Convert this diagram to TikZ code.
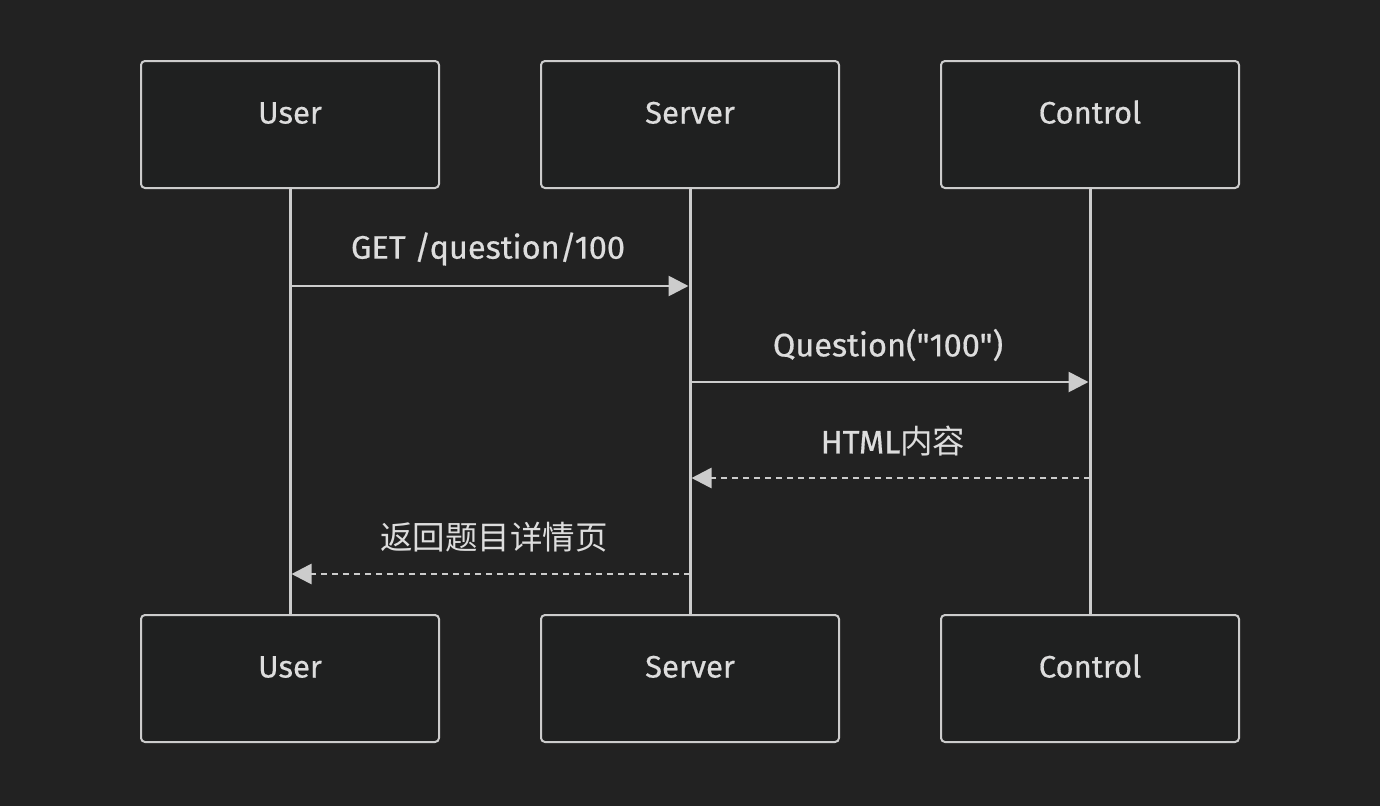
\documentclass[tikz,border=0pt]{standalone}
\usepackage{fontspec}
\setmainfont{Fira Sans}[Ligatures=TeXOff, FakeBold=0.5]
\newfontfamily\cjk{Noto Sans CJK SC}
\usetikzlibrary{arrows.meta,positioning}
\definecolor{bgdark}{HTML}{222222}
\definecolor{boxfill}{HTML}{1F2020}
\definecolor{linegray}{HTML}{CCCCCC}
\definecolor{textgray}{HTML}{DDDDDD}

\begin{document}
\begin{tikzpicture}[x=1pt,y=-1pt,
  actor/.style={draw=linegray, line width=2pt, fill=boxfill, rounded corners=4pt,
    minimum width=298pt, minimum height=127pt, text=textgray,
    text height=20pt, text depth=22pt,
    font=\fontsize{31}{36}\selectfont},
  lifeline/.style={draw=linegray, line width=3pt},
  msg/.style={draw=linegray, line width=2.7pt, shorten >=1.5pt,
    -{Triangle[length=20pt,width=20pt]}},
  reply/.style={msg, dash pattern=on 6pt off 5pt},
  msglabel/.style={text=textgray, font=\fontsize{32.5}{38}\selectfont}]

\fill[bgdark] (0,0) rectangle (1380,806);
\useasboundingbox (0,0) rectangle (1380,806);

% actors, top and bottom
\node[actor] (U1) at (290,124.5) {User};
\node[actor] (S1) at (690,124.5) {Server};
\node[actor] (C1) at (1090,124.5) {Control};
\node[actor] (U2) at (290,678.5) {User};
\node[actor] (S2) at (690,678.5) {Server};
\node[actor] (C2) at (1090,678.5) {Control};

% lifelines
\draw[lifeline] (U1.south) -- (U2.north);
\draw[lifeline] (S1.south) -- (S2.north);
\draw[lifeline] (C1.south) -- (C2.north);

% message rows
\coordinate (m1) at (0,286);
\coordinate (m2) at (0,382);
\coordinate (m3) at (0,478);
\coordinate (m4) at (0,574);

\draw[msg] (U1 |- m1) -- (S1 |- m1);
\node[msglabel] (l1) at (488,249) {GET /question/100};

\draw[msg] (S1 |- m2) -- (C1 |- m2);
\node[msglabel] (l2) at (888,345) {Question("100")};

\draw[reply] (C1 |- m3) -- (S1 |- m3);
\node[msglabel] (l3) at (893,441) {HTML{\cjk 内容}};

\draw[reply] (S1 |- m4) -- (U1 |- m4);
\node[msglabel] (l4) at (494,537) {\cjk 返回题目详情页};

\end{tikzpicture}
\end{document}
